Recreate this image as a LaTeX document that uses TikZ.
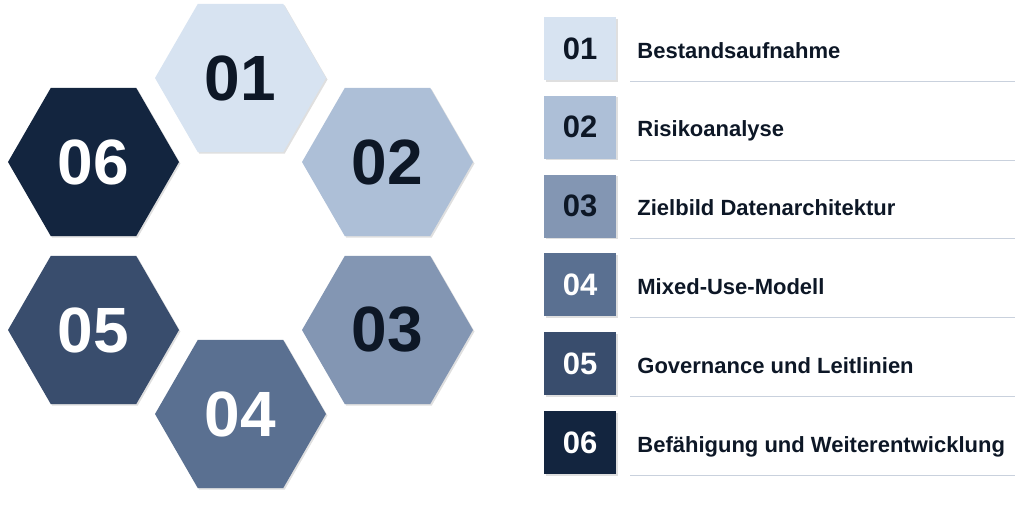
\documentclass[tikz,border=0pt]{standalone}
\usepackage{fontspec}
\setmainfont{Liberation Sans}
\usetikzlibrary{shapes.geometric,shadows,positioning}

\definecolor{stepA}{HTML}{D7E3F1}
\definecolor{stepB}{HTML}{ADBFD7}
\definecolor{stepC}{HTML}{8396B3}
\definecolor{stepD}{HTML}{5A7091}
\definecolor{stepE}{HTML}{394D6D}
\definecolor{stepF}{HTML}{13253F}
\definecolor{inkdark}{HTML}{0D1726}
\definecolor{rulegray}{HTML}{C9D1DD}

\tikzset{
  hexa/.style={regular polygon, regular polygon sides=6, minimum size=171pt,
    inner sep=0pt, draw=none, font=\fontsize{64}{64}\selectfont\bfseries,
    drop shadow={shadow xshift=1.5pt, shadow yshift=-1.5pt, opacity=0.25}},
  numbox/.style={minimum width=72pt, minimum height=63pt, inner sep=0pt,
    font=\fontsize{31}{31}\selectfont\bfseries,
    drop shadow={shadow xshift=1.5pt, shadow yshift=-1.5pt, opacity=0.25}},
  steptext/.style={anchor=base west, inner sep=0pt, text=inkdark,
    font=\fontsize{22}{22}\selectfont\bfseries},
  steprule/.style={rulegray, line width=1pt}
}

\begin{document}
\begin{tikzpicture}[x=1pt, y=-1pt]
	\useasboundingbox (0,0) rectangle (1024,504);
	% hexagon ring
	\node[hexa, fill=stepA, text=inkdark] (h1) at (240.5,78) {01};
	\node[hexa, fill=stepB, text=inkdark] (h2) at (387.5,162) {02};
	\node[hexa, fill=stepC, text=inkdark] (h3) at (387.5,330) {03};
	\node[hexa, fill=stepD, text=white] (h4) at (240.5,414) {04};
	\node[hexa, fill=stepE, text=white] (h5) at (93.5,330) {05};
	\node[hexa, fill=stepF, text=white] (h6) at (93.5,162) {06};
	% list of steps
	\node[numbox, fill=stepA, text=inkdark] (s1) at (580,48.5) {01};
	\node[numbox, fill=stepB, text=inkdark] (s2) at (580,127.3) {02};
	\node[numbox, fill=stepC, text=inkdark] (s3) at (580,206.1) {03};
	\node[numbox, fill=stepD, text=white] (s4) at (580,284.9) {04};
	\node[numbox, fill=stepE, text=white] (s5) at (580,363.7) {05};
	\node[numbox, fill=stepF, text=white] (s6) at (580,442.5) {06};
	\node[steptext] (t1) at ([xshift=21pt,yshift=-9.5pt]s1.east) {Bestandsaufnahme};
	\node[steptext] (t2) at ([xshift=21pt,yshift=-9.5pt]s2.east) {Risikoanalyse};
	\node[steptext] (t3) at ([xshift=21pt,yshift=-9.5pt]s3.east) {Zielbild Datenarchitektur};
	\node[steptext] (t4) at ([xshift=21pt,yshift=-9.5pt]s4.east) {Mixed-Use-Modell};
	\node[steptext] (t5) at ([xshift=21pt,yshift=-9.5pt]s5.east) {Governance und Leitlinien};
	\node[steptext] (t6) at ([xshift=21pt,yshift=-9.5pt]s6.east) {Befähigung und Weiterentwicklung};
	\draw[steprule] ([xshift=14pt,yshift=-1pt]s1.south east) -- ++(385,0);
	\draw[steprule] ([xshift=14pt,yshift=-1pt]s2.south east) -- ++(385,0);
	\draw[steprule] ([xshift=14pt,yshift=-1pt]s3.south east) -- ++(385,0);
	\draw[steprule] ([xshift=14pt,yshift=-1pt]s4.south east) -- ++(385,0);
	\draw[steprule] ([xshift=14pt,yshift=-1pt]s5.south east) -- ++(385,0);
	\draw[steprule] ([xshift=14pt,yshift=-1pt]s6.south east) -- ++(385,0);
\end{tikzpicture}
\end{document}
